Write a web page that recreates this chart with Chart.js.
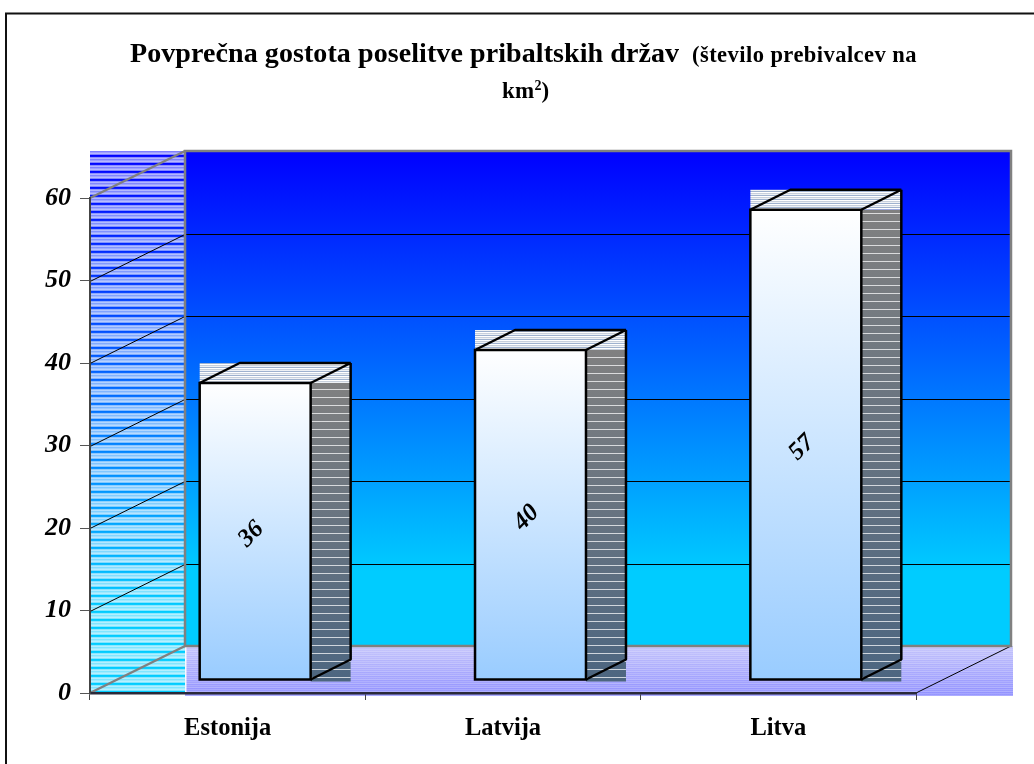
<!DOCTYPE html>
<html><head><meta charset="utf-8">
<style>html,body{margin:0;padding:0;background:#fff}canvas{display:block}</style>
<script src="https://cdn.jsdelivr.net/npm/chart.js@4/dist/chart.umd.min.js"></script>
</head><body><canvas id="c" width="1034" height="764"></canvas>
<script>
const categories = ['Estonija','Latvija','Litva'];
const values = [36,40,57];
const yTicks = [0,10,20,30,40,50,60];
const titleMain = 'Povprečna gostota poselitve pribaltskih držav';
const titleSub = '(število prebivalcev na';
const titleLine2 = ['km','2',')'];

const FONT = '"Liberation Serif"';
const WALL = {dx:95, dy:-47};
const DEPTH = {dx:40, dy:-20};
const SHIFT = {dx:27.5, dy:-13};

function stripes(ctx, rows){
  const c = document.createElement('canvas'); c.width = 4; c.height = rows.length;
  const g = c.getContext('2d');
  rows.forEach((col,i)=>{ g.fillStyle = col; g.fillRect(0,i,4,1); });
  return ctx.createPattern(c,'repeat');
}
const W = a => 'rgba(255,255,255,'+a+')';
const wallRows = [W(.62),W(.72),W(.5),W(0),W(.05),W(.55),W(.7),W(.5)];
const floorRows = [W(0),W(.18),W(.05),W(.25)];
const topRows = ['#ffffff','#c8d0dc','#eef1f5','#9fb2cf'];
const sideRows = [W(0),W(0),W(0),W(0),W(0),W(.72),W(0),W(0)];
function wallGradient(ctx,a,b){
  const g = ctx.createLinearGradient(0,a,0,b);
  g.addColorStop(0,'#0000ff'); g.addColorStop(.85,'#00ccff'); g.addColorStop(1,'#00ccff');
  return g;
}

const scene = {
  id:'scene',
  beforeDraw(chart){
    const {ctx, scales:{x,y}} = chart;
    const x0 = x.left, x1 = x.right;
    const y0 = y.getPixelForValue(0), yTop = y.getPixelForValue(60);
    const bx0 = x0+WALL.dx, bx1 = x1+WALL.dx, by0 = y0+WALL.dy, byT = yTop+WALL.dy;
    ctx.save();
    // outer frame
    ctx.strokeStyle='#111'; ctx.lineWidth=2;
    ctx.beginPath(); ctx.moveTo(6,764); ctx.lineTo(6,13.5); ctx.lineTo(1034,13.5); ctx.stroke();
    // back wall
    ctx.fillStyle=wallGradient(ctx,byT,by0); ctx.fillRect(bx0,byT,bx1-bx0,by0-byT);
    // side wall
    ctx.fillStyle=wallGradient(ctx,byT,y0); ctx.fillRect(x0,byT,WALL.dx,y0-byT+1);
    ctx.fillStyle=stripes(ctx,wallRows); ctx.fillRect(x0,byT,WALL.dx,y0-byT+1);
    // floor
    let g = ctx.createLinearGradient(0,by0,0,y0+3);
    g.addColorStop(0,'#c4c4fb'); g.addColorStop(1,'#9090ff');
    ctx.fillStyle=g; ctx.fillRect(bx0,by0,bx1-bx0+2,y0+3-by0);
    ctx.fillStyle=stripes(ctx,floorRows); ctx.fillRect(bx0,by0,bx1-bx0+2,y0+3-by0);
    ctx.fillStyle='rgba(255,255,255,.9)'; ctx.fillRect(bx0,by0,1.5,y0-by0);
    // grid lines
    ctx.strokeStyle='#000'; ctx.lineWidth=1;
    yTicks.forEach(v=>{
      if(v===0||v===60) return;
      const p = Math.round(y.getPixelForValue(v))+.5;
      ctx.beginPath(); ctx.moveTo(x0,p); ctx.lineTo(bx0,p+WALL.dy); ctx.lineTo(bx1,p+WALL.dy); ctx.stroke();
    });
    ctx.beginPath(); ctx.moveTo(x1,y0); ctx.lineTo(bx1,by0); ctx.stroke();
    // wall outlines
    ctx.strokeStyle='#808080'; ctx.lineWidth=2.5;
    ctx.beginPath(); ctx.rect(bx0,byT,bx1-bx0,by0-byT); ctx.stroke();
    ctx.beginPath(); ctx.moveTo(x0,yTop); ctx.lineTo(bx0,byT); ctx.moveTo(x0,y0); ctx.lineTo(bx0,by0); ctx.stroke();
    // title
    ctx.fillStyle='#000'; ctx.textBaseline='alphabetic'; ctx.textAlign='left';
    ctx.font='bold 28px '+FONT; ctx.letterSpacing='0.08px'; ctx.fillText(titleMain,130,62);
    ctx.font='bold 22.5px '+FONT; ctx.letterSpacing='0.45px'; ctx.fillText(titleSub,692,62);
    ctx.font='bold 23px '+FONT; ctx.letterSpacing='0.2px'; ctx.fillText(titleLine2[0],502,98);
    ctx.font='bold 14px '+FONT; ctx.letterSpacing='0px'; ctx.fillText(titleLine2[1],534.5,90);
    ctx.font='bold 23px '+FONT; ctx.fillText(titleLine2[2],541.5,98);
    ctx.restore();
  },
  beforeDatasetsDraw(chart){
    const {ctx} = chart;
    const meta = chart.getDatasetMeta(0);
    ctx.save();
    meta.data.forEach(b=>{
      const {x:bx,y:by,base,width} = b.getProps(['x','y','base','width'],true);
      const L=bx-width/2+SHIFT.dx, R=bx+width/2+SHIFT.dx, T=by+SHIFT.dy, B=base+SHIFT.dy;
      // side hatch box
      let g=ctx.createLinearGradient(0,T,0,B);
      g.addColorStop(0,'#808080'); g.addColorStop(1,'#4d6680');
      ctx.fillStyle=g; ctx.fillRect(R,T,DEPTH.dx,B-T+2);
      ctx.fillStyle=stripes(ctx,sideRows); ctx.fillRect(R,T,DEPTH.dx,B-T+2);
      // top hatch box
      ctx.fillStyle=stripes(ctx,topRows); ctx.fillRect(L,T+DEPTH.dy,width+DEPTH.dx,-DEPTH.dy);
      // outlines
      ctx.strokeStyle='#000'; ctx.lineWidth=2.5; ctx.lineJoin='bevel';
      ctx.beginPath();
      ctx.moveTo(L,T); ctx.lineTo(L+DEPTH.dx,T+DEPTH.dy); ctx.lineTo(R+DEPTH.dx,T+DEPTH.dy); ctx.lineTo(R,T);
      ctx.moveTo(R+DEPTH.dx,T+DEPTH.dy); ctx.lineTo(R+DEPTH.dx,B+DEPTH.dy); ctx.lineTo(R,B);
      ctx.stroke();
    });
    ctx.restore();
    ctx.save(); ctx.translate(SHIFT.dx,SHIFT.dy);
  },
  afterDatasetsDraw(chart){
    const {ctx} = chart;
    ctx.restore();
    const meta = chart.getDatasetMeta(0);
    ctx.save();
    ctx.textAlign='center'; ctx.textBaseline='middle';
    meta.data.forEach((b,i)=>{
      const {x:bx,y:by,base,width} = b.getProps(['x','y','base','width'],true);
      ctx.strokeStyle='#000'; ctx.lineWidth=2.5; ctx.lineJoin='miter';
      ctx.strokeRect(bx-width/2+SHIFT.dx,by+SHIFT.dy,width,base-by);
      ctx.save();
      ctx.fillStyle='#000'; ctx.font='italic bold 25px '+FONT;
      ctx.translate(bx+SHIFT.dx-4,(by+base)/2+SHIFT.dy+3);
      ctx.rotate(-Math.PI/4);
      ctx.fillText(String(values[i]),0,0);
      ctx.restore();
    });
    ctx.restore();
  }
};

new Chart(document.getElementById('c'),{
  type:'bar',
  data:{labels:categories,datasets:[{
    data:values,
    barPercentage:0.403,categoryPercentage:1,
    borderWidth:0,clip:false,
    backgroundColor(ctx){
      const y=ctx.chart.scales.y;
      const a=y?y.getPixelForValue(values[ctx.dataIndex]):NaN, b=y?y.getPixelForValue(0):NaN;
      if(!isFinite(a)||!isFinite(b)) return '#ffffff';
      const g=ctx.chart.ctx.createLinearGradient(0,a,0,b);
      g.addColorStop(0,'#ffffff'); g.addColorStop(1,'#99ccff');
      return g;
    }
  }]},
  options:{
    responsive:false,animation:false,
    layout:{padding:{top:198,right:118,bottom:0,left:0}},
    plugins:{legend:{display:false},tooltip:{enabled:false},title:{display:false}},
    scales:{
      x:{
        type:'category',offset:true,
        afterFit(s){s.height=71;},
        grid:{offset:true,drawOnChartArea:false,tickLength:7,tickColor:'#444',tickWidth:1},
        border:{color:'#2a2a3a',width:2.5},
        ticks:{color:'#000',font:{family:FONT,size:24.5,weight:'bold'},padding:14,maxRotation:0}
      },
      y:{
        min:0,max:60,
        afterFit(s){s.width=90;},
        afterBuildTicks(s){s.ticks=yTicks.map(v=>({value:v}));},
        grid:{drawOnChartArea:false,tickLength:10,tickColor:'#555',tickWidth:1},
        border:{color:'#444',width:2},
        ticks:{color:'#000',font:{family:FONT,size:26,weight:'bold',style:'italic'},padding:9}
      }
    }
  },
  plugins:[scene]
});
</script></body></html>
